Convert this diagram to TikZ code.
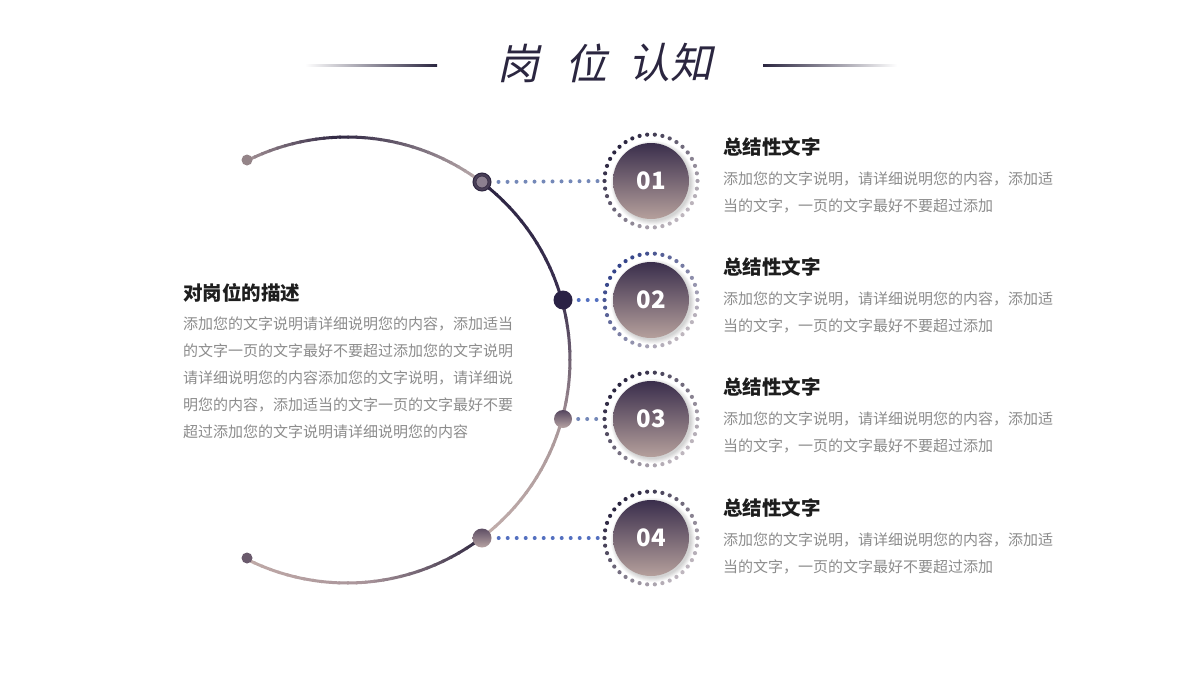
\documentclass[tikz,border=0pt]{standalone}
\usepackage{fontspec}
\newfontfamily\cjk{Noto Sans CJK SC}
\newfontfamily\titlefont[FakeSlant=0.22]{Noto Sans CJK SC}
\usetikzlibrary{calc}
\definecolor{titlec}{HTML}{2B2640}
\definecolor{headc}{HTML}{1E1E1E}
\definecolor{bodyc}{HTML}{8C8C8C}
\definecolor{conn}{HTML}{5470C0}
\definecolor{connl}{HTML}{7488B8}
\definecolor{gtop}{HTML}{3A2E4C}
\definecolor{gbot}{HTML}{B5A09C}
\definecolor{ringd}{HTML}{2A2540}
\definecolor{ringl}{HTML}{BEB6BE}
\definecolor{ringb}{HTML}{34448A}
\definecolor{aA}{HTML}{A39195}
\definecolor{aB}{HTML}{2E2642}
\definecolor{aC}{HTML}{BBABAC}
\definecolor{aD}{HTML}{2C2442}
\definecolor{aE}{HTML}{3A3050}
\definecolor{aF}{HTML}{3F3450}
\definecolor{aG}{HTML}{A08E94}
\definecolor{aH}{HTML}{A89698}
\definecolor{aI}{HTML}{C2AEAC}
\definecolor{aJ}{HTML}{2F2740}
\definecolor{aK}{HTML}{A8949A}
\definecolor{aL}{HTML}{C0AAA8}
\definecolor{endA}{HTML}{948488}
\definecolor{endB}{HTML}{6A5A6C}
\definecolor{nA}{HTML}{4A4058}
\definecolor{nB}{HTML}{2E2640}
\definecolor{nC}{HTML}{8C8090}
\definecolor{nD}{HTML}{3A3048}
\definecolor{nE}{HTML}{2A2245}
\definecolor{nF}{HTML}{55465E}
\definecolor{nG}{HTML}{B8A4A4}
\definecolor{nH}{HTML}{5E4E64}
\newcommand\gradarc[5]{%
  \pgfmathsetmacro\gda{(#2-#1)/#5}%
  \foreach \i in {1,...,#5}{%
    \pgfmathsetmacro\gsa{#1+(\i-1)*\gda}%
    \pgfmathsetmacro\gea{#1+\i*\gda+0.2*\gda}%
    \pgfmathsetmacro\gpp{100*(\i-0.5)/#5}%
    \draw[arcline,color=#4!\gpp!#3] ({347+223*cos(\gsa)},{360-223*sin(\gsa)}) arc[start angle=-\gsa, end angle=-\gea, radius=223];
  }}
\newcommand\dotring[4]{% cx cy dark light
  \foreach \k in {0,...,37}{%
    \pgfmathsetmacro\ra{\k*360/38}%
    \pgfmathsetmacro\rt{50*(1-cos(\ra-135))}%
    \fill[color=#4!\rt!#3] ({#1+46.5*cos(\ra)},{#2-46.5*sin(\ra)}) circle (2.1);
  }}
\tikzset{
  arcline/.style={line width=3pt},
  arcnode/.style={circle,inner sep=0pt,minimum size=18pt},
  ringnode/.style={circle,inner sep=0pt,minimum size=93pt},
  connector/.style={line width=4pt,line cap=round,dash pattern=on 0pt off 9pt},
  numtext/.style={text=white,font=\cjk\bfseries\fontsize{24}{28}\selectfont},
  headtext/.style={anchor=west,text=headc,font=\cjk\bfseries\fontsize{19.5}{24}\selectfont,inner sep=0pt},
  bodytext/.style={anchor=west,text=bodyc,align=left,font=\cjk\fontsize{15}{27}\selectfont,inner sep=0pt},
}
\begin{document}
\begin{tikzpicture}[x=1pt,y=-1pt]
\useasboundingbox[fill=white] (0,0) rectangle (1200,680);

% title
\node[text=titlec,font=\titlefont\fontsize{42}{46}\selectfont] (t1) at (518,63) {岗};
\node[text=titlec,font=\titlefont\fontsize{42}{46}\selectfont] (t2) at (586,63) {位};
\node[text=titlec,font=\titlefont\fontsize{42}{46}\selectfont] (t3) at (670,63) {认知};
\shade[left color=white,right color=titlec] (305,64) rectangle (437,66);
\shade[left color=titlec,right color=white] (763,64) rectangle (897,66);

% main arc
\gradarc{116.6}{92}{aA}{aB}{12}
\gradarc{92}{54}{aB}{aC}{18}
\gradarc{52.8}{15.5}{aD}{aE}{16}
\gradarc{15.5}{-15}{aF}{aG}{14}
\gradarc{-15}{-52.8}{aH}{aI}{16}
\gradarc{-52.8}{-85}{aJ}{aK}{14}
\gradarc{-85}{-116.6}{aK}{aL}{14}

% end dots
\node[circle,inner sep=0pt,minimum size=11pt,fill=endA] (e1) at (247,160) {};
\node[circle,inner sep=0pt,minimum size=11pt,fill=endB] (e2) at (247,558) {};

% arc nodes
\node[arcnode,fill=nA,draw=nB,line width=1pt] (n1) at (482,182) {};
\fill[nC,draw=nD,line width=0.8pt] (n1.center) circle (6);
\node[arcnode,fill=nE,minimum size=19pt] (n2) at (563,300) {};
\node[arcnode,top color=nF,bottom color=nG] (n3) at (563,419) {};
\node[arcnode,top color=nH,bottom color=nG,minimum size=19pt] (n4) at (482,538) {};

% big circles
\foreach \n/\cy/\lab/\dk/\lt in {1/181/01/ringd/ringl,2/300/02/ringb/ringl,3/419/03/ringd/ringl,4/538/04/ringd/ringl}{
  \node[ringnode] (c\n) at (651,\cy) {};
  \foreach \s in {1,...,5}{
    \fill[black,opacity=0.035] (653,\cy+2) circle (37+\s);
  }
  \shade[top color=gtop,bottom color=gbot] (651,\cy) circle (38);
  \dotring{651}{\cy}{\dk}{\lt}
  \node[numtext] at (651,\cy) {\lab};
}

% connectors
\draw[connector,color=connl,shorten <=7pt,shorten >=6pt] (n1.east) -- (c1.west);
\draw[connector,color=conn,shorten <=6pt,shorten >=6pt] (n2.east) -- (c2.west);
\draw[connector,color=connl,shorten <=6pt,shorten >=6pt] (n3.east) -- (c3.west);
\draw[connector,color=conn,shorten <=7pt,shorten >=6pt] (n4.east) -- (c4.west);

% right texts
\foreach \n/\hy in {1/147,2/267,3/387,4/508}{
  \node[headtext] (h\n) at (723,\hy) {总结性文字};
  \node[bodytext] (b\n) at (723,\hy+45) {添加您的文字说明，请详细说明您的内容，添加适\\当的文字，一页的文字最好不要超过添加};
}

% left text
\node[headtext] (lh) at (183,293) {对岗位的描述};
\node[bodytext] (lb) at (183,378) {添加您的文字说明请详细说明您的内容，添加适当\\的文字一页的文字最好不要超过添加您的文字说明\\请详细说明您的内容添加您的文字说明，请详细说\\明您的内容，添加适当的文字一页的文字最好不要\\超过添加您的文字说明请详细说明您的内容};
\end{tikzpicture}
\end{document}
